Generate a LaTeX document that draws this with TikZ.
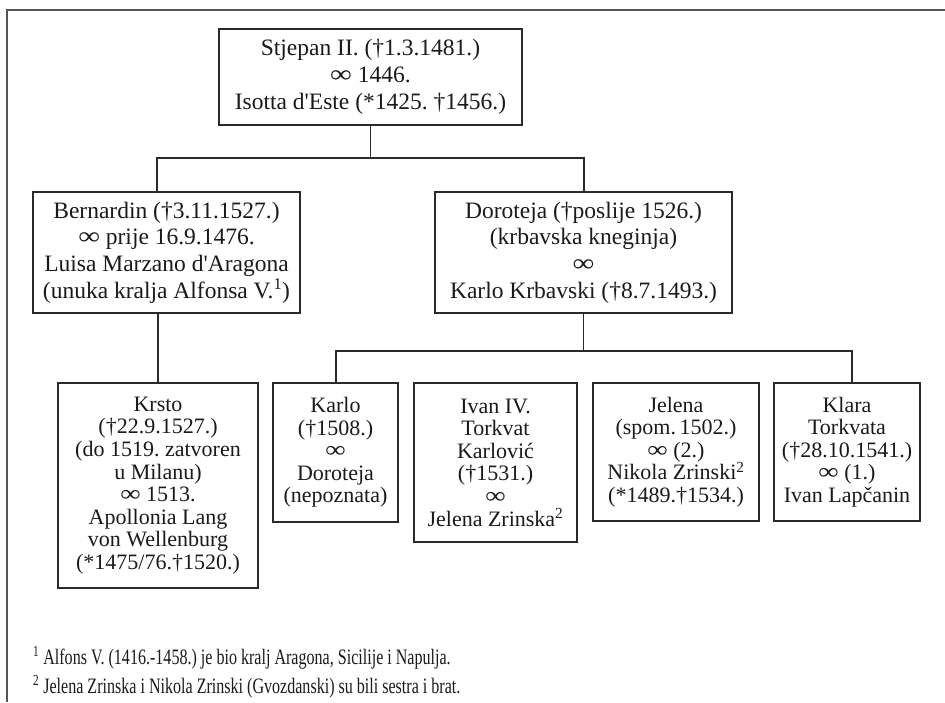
\documentclass[tikz,border=0pt]{standalone}
\usepackage{fontspec}
\setmainfont{Liberation Serif}[Ligatures=TeXOff]
\newfontfamily\fnfont[FakeStretch=0.73,Ligatures=TeXOff]{Liberation Serif}
\definecolor{boxc}{HTML}{2A2A2A}
\definecolor{framec}{HTML}{555555}
\definecolor{txt}{HTML}{1A1A1A}
\newcommand\infy{\scalebox{1.3}[1.05]{∞}}
\frenchspacing
\begin{document}
\begin{tikzpicture}[x=1pt,y=-1pt,
  box/.style={draw=boxc, line width=1.6pt, align=center, inner sep=0pt, text=txt},
  big/.style={font=\fontsize{23.5}{26.7}\selectfont},
  small/.style={font=\fontsize{22}{22.6}\selectfont},
  link/.style={draw=boxc, line width=1.6pt},
  fn/.style={anchor=base west, inner sep=0pt, text=txt, font=\fontsize{22}{24}\fnfont}]
\fill[white] (0,0) rectangle (945,702);
\useasboundingbox (0,0) rectangle (945,702);
\draw[framec, line width=1.5pt] (7,702) -- (7,10) -- (945,10);

\node[box,big,minimum width=303pt,minimum height=96pt] (top) at (370.5,77)
  {Stjepan II. (†1.3.1481.)\\ \infy\ 1446.\\ Isotta d'Este (*1425. †1456.)};
\node[box,big,minimum width=267pt,minimum height=121pt] (bern) at (166.5,252.5)
  {Bernardin (†3.11.1527.)\\ \infy\ prije 16.9.1476.\\ Luisa Marzano d'Aragona\\ (unuka kralja Alfonsa V.\textsuperscript{1})};
\node[box,big,minimum width=297pt,minimum height=121pt] (dor) at (583.5,252.5)
  {Doroteja (†poslije 1526.)\\ (krbavska kneginja)\\ \infy\\ Karlo Krbavski (†8.7.1493.)};

\node[box,small,minimum width=200pt,minimum height=205pt] (krsto) at (158,485.5)
  {Krsto\\ (†22.9.1527.)\\ (do 1519. zatvoren\\ u Milanu)\\ \infy\ 1513.\\ Apollonia Lang\\ von Wellenburg\\ (*1475/76.†1520.)};
\node[box,small,minimum width=125pt,minimum height=139pt] (karlo) at (335.5,452.5)
  {Karlo\\ (†1508.)\\ \infy\\ Doroteja\\ (nepoznata)};
\node[box,small,minimum width=163pt,minimum height=159pt] (ivan) at (495.5,462.5)
  {Ivan IV.\\ Torkvat\\ Karlović\\ (†1531.)\\ \infy\\ Jelena Zrinska\textsuperscript{2}};
\node[box,small,minimum width=166pt,minimum height=138pt] (jelena) at (676,452)
  {Jelena\\ (spom.\,1502.)\\ \infy\ (2.)\\ Nikola Zrinski\textsuperscript{2}\\ (*1489.†1534.)};
\node[box,small,minimum width=146pt,minimum height=138pt] (klara) at (847,452)
  {Klara\\ Torkvata\\ (†28.10.1541.)\\ \infy\ (1.)\\ Ivan Lapčanin};

\coordinate (bj) at (157,158);
\coordinate (dj) at (584,158);
\coordinate (l1) at (336,351);
\coordinate (l2) at (852,351);

\draw[link] (top.south) -- (top.south |- bj);
\draw[link] (bern.north -| bj) -- (bj) -- (dj) -- (dor.north -| dj);
\draw[link] (bern.south -| krsto.north) -- (krsto.north);
\draw[link] (dor.south) -- (dor.south |- l1);
\draw[link] (karlo.north -| l1) -- (l1) -- (l2) -- (klara.north -| l2);

\node[fn] (f1) at (33,664) {\textsuperscript{1} Alfons V. (1416.-1458.) je bio kralj Aragona, Sicilije i Napulja.};
\node[fn] (f2) at (33,693) {\textsuperscript{2} Jelena Zrinska i Nikola Zrinski (Gvozdanski) su bili sestra i brat.};
\end{tikzpicture}
\end{document}
